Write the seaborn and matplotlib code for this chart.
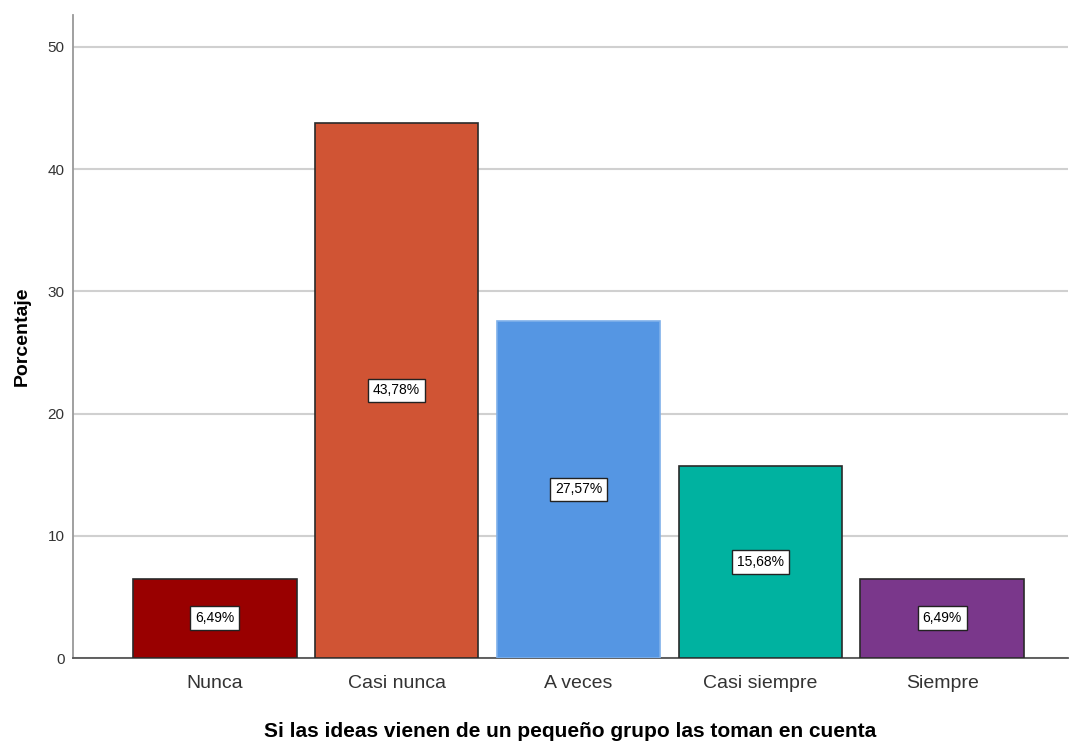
import matplotlib
matplotlib.use('Agg')
import matplotlib.pyplot as plt
import seaborn as sns
import pandas as pd

# Chart data
categories = ['Nunca', 'Casi nunca', 'A veces', 'Casi siempre', 'Siempre']
percentages = [6.49, 43.78, 27.57, 15.68, 6.49]
bar_colors = ['#990000', '#D05434', '#5596E3', '#00B2A0', '#7A378B']
edge_colors = ['#2a2a2a', '#2a2a2a', '#7fb0ea', '#2a2a2a', '#2a2a2a']
y_ticks = [0, 10, 20, 30, 40, 50]

df = pd.DataFrame({'cat': categories, 'pct': percentages})

sns.set_style('white')
plt.rcParams['font.family'] = ['Liberation Sans', 'DejaVu Sans']

fig = plt.figure(figsize=(10.7, 7.43), dpi=100)
ax = fig.add_axes([0.068, 0.1144, 0.93, 0.8654])

sns.barplot(data=df, x='cat', y='pct', hue='cat', palette=bar_colors,
            width=0.9, legend=False, ax=ax, saturation=1, zorder=3)

for patch, ec in zip(ax.patches, edge_colors):
    patch.set_edgecolor(ec)
    patch.set_linewidth(1.2)

# centred value boxes
for i, v in enumerate(percentages):
    ax.text(i, v / 2, f"{v:.2f}%".replace('.', ','), ha='center', va='center',
            fontsize=10, color='black', zorder=5,
            bbox=dict(boxstyle='square,pad=0.35', facecolor='white',
                      edgecolor='#222222', linewidth=1.0))

ax.set_xlim(-0.78, 4.69)
ax.set_ylim(0, 52.6)
ax.set_yticks(y_ticks)
ax.yaxis.grid(True, color='#d0d0d0', linewidth=1.5, zorder=0)
ax.set_axisbelow(True)

for s in ['top', 'right']:
    ax.spines[s].set_visible(False)
ax.spines['left'].set_color('#999999')
ax.spines['left'].set_linewidth(1.3)
ax.spines['bottom'].set_color('#555555')
ax.spines['bottom'].set_linewidth(1.3)

ax.tick_params(axis='y', labelsize=11, colors='#333333', length=0, pad=6)
ax.tick_params(axis='x', labelsize=14, colors='#333333', length=0, pad=12)

ax.set_xlabel('Si las ideas vienen de un pequeño grupo las toman en cuenta',
              fontsize=15, fontweight='bold', color='black', labelpad=22)
ax.set_ylabel('Porcentaje', fontsize=14, fontweight='bold', color='black', labelpad=12)

fig.savefig('out.png', dpi=100)
plt.close(fig)
